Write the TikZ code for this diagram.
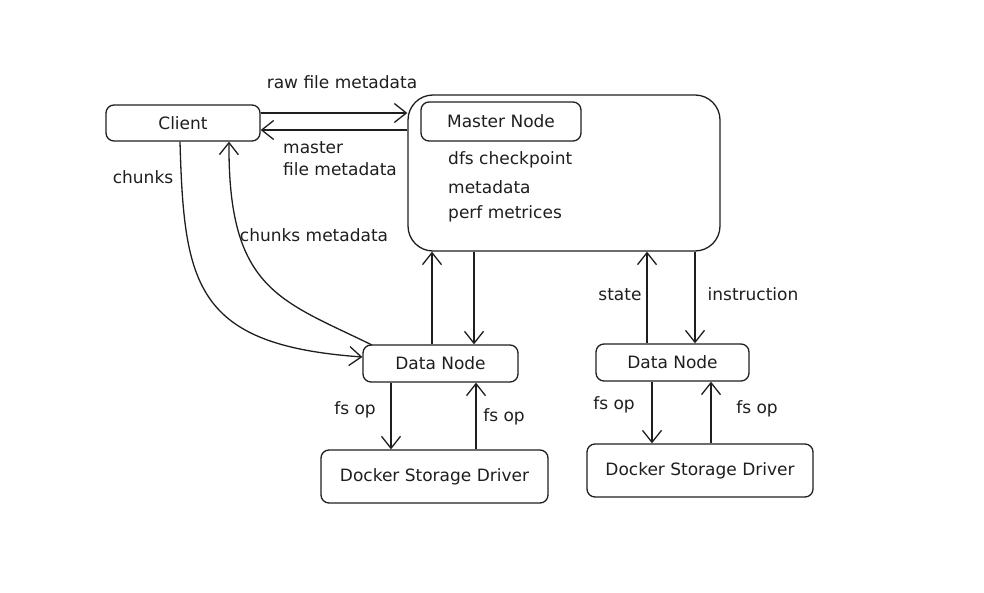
\documentclass[tikz,border=0pt]{standalone}
\usepackage{fontspec}
\setmainfont{DejaVu Sans}
\usetikzlibrary{arrows.meta}
\definecolor{ink}{HTML}{1E1E1E}
\tikzset{
  box/.style={draw=ink, line width=1.3pt, rounded corners=8pt, inner sep=0pt},
  lbl/.style={text=ink, font=\fontsize{17}{22}\selectfont, inner sep=0pt},
  conn/.style={draw=ink, line width=1.3pt, -{Straight Barb[length=12pt,width=19pt,line width=1.3pt]}},
}
\begin{document}
\begin{tikzpicture}[x=1pt,y=-1pt]
\useasboundingbox (0,0) rectangle (984,593);
% boxes
\node[box, minimum width=154, minimum height=36, lbl] (client) at (183,123) {Client};
\node[box, rounded corners=25pt, minimum width=312, minimum height=156] (master) at (564,173) {};
\node[box, minimum width=160, minimum height=39, lbl] (mnode) at (501,121.5) {Master Node};
\node[lbl, anchor=west] (t1) at (448,160) {dfs checkpoint};
\node[lbl, anchor=west] (t2) at (448,187) {metadata};
\node[lbl, anchor=west] (t3) at (448,214) {perf metrices};
\node[box, minimum width=155, minimum height=37, lbl] (dn1) at (440.5,363.5) {Data Node};
\node[box, minimum width=153, minimum height=37, lbl] (dn2) at (672.5,362.5) {Data Node};
\node[box, minimum width=227, minimum height=53, lbl] (dk1) at (434.5,476.5) {Docker Storage Driver};
\node[box, minimum width=226, minimum height=53, lbl] (dk2) at (700,470.5) {Docker Storage Driver};
% client <-> master
\draw[conn] (client.east |- 0,113) -- (master.west |- 0,113);
\draw[conn] (master.west |- 0,130) -- (client.east |- 0,130);
\node[lbl] (l1) at (342,82) {raw file metadata};
\node[lbl, anchor=west, align=left] (l2) at (283,159) {master\\file metadata};
% chunks
\coordinate (c1) at (client.south -| 180,0);
\coordinate (c2) at (dn1.west |- 0,357);
\draw[conn] (c1) .. controls (184,285) and (195,345) .. (c2);
\node[lbl] (l3) at (143,177) {chunks};
\coordinate (c3) at (372,345);
\coordinate (c4) at (client.south -| 229,0);
\draw[conn] (c3) .. controls (280,300) and (228,290) .. (c4);
\node[lbl] (l4) at (314,235) {chunks metadata};
% dn1 <-> master
\draw[conn] (dn1.north -| 432,0) -- (master.south -| 432,0);
\draw[conn] (master.south -| 474,0) -- (dn1.north -| 474,0);
% dn1 <-> dk1
\draw[conn] (dn1.south -| 391,0) -- (dk1.north -| 391,0);
\draw[conn] (dk1.north -| 476,0) -- (dn1.south -| 476,0);
\node[lbl] (l5) at (355,410) {fs op};
\node[lbl] (l6) at (504,417) {fs op};
% dn2 <-> master
\draw[conn] (dn2.north -| 647,0) -- (master.south -| 647,0);
\draw[conn] (master.south -| 695,0) -- (dn2.north -| 695,0);
\node[lbl] (l7) at (620,295) {state};
\node[lbl] (l8) at (753,294) {instruction};
% dn2 <-> dk2
\draw[conn] (dn2.south -| 652,0) -- (dk2.north -| 652,0);
\draw[conn] (dk2.north -| 711,0) -- (dn2.south -| 711,0);
\node[lbl] (l9) at (614,405) {fs op};
\node[lbl] (l10) at (757,409) {fs op};
\end{tikzpicture}
\end{document}
